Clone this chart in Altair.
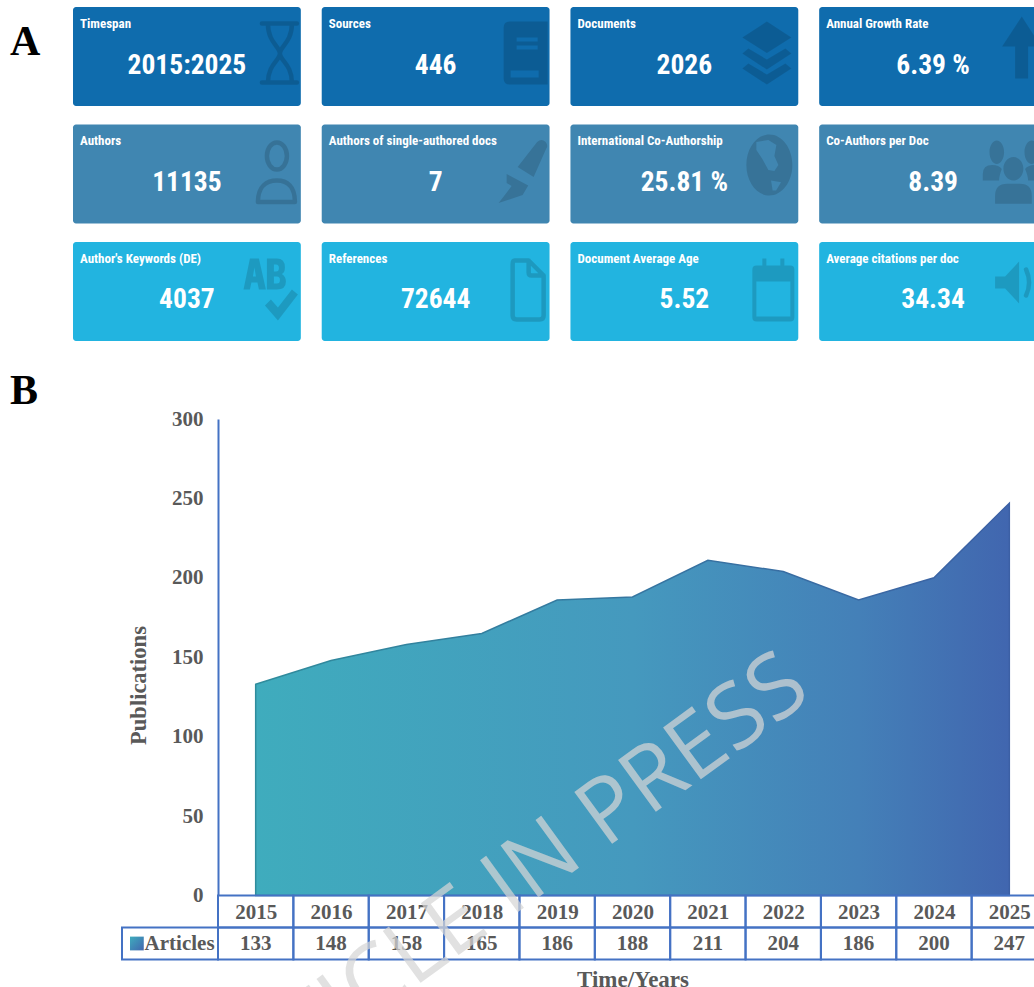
import altair as alt
import pandas as pd

# Summary cards
card_titles = [
    "Timespan", "Sources", "Documents", "Annual Growth Rate",
    "Authors", "Authors of single-authored docs", "International Co-Authorship", "Co-Authors per Doc",
    "Author's Keywords (DE)", "References", "Document Average Age", "Average citations per doc",
]
card_values = [
    "2015:2025", "446", "2026", "6.39 %",
    "11135", "7", "25.81 %", "8.39",
    "4037", "72644", "5.52", "34.34",
]
card_columns = [0, 1, 2, 3]
card_rows = [0, 1, 2]
row_colors = ["#0F6CAD", "#4086B1", "#22B4E0"]

# Publications per year
years = ["2015", "2016", "2017", "2018", "2019", "2020", "2021", "2022", "2023", "2024", "2025"]
articles = [133, 148, 158, 165, 186, 188, 211, 204, 186, 200, 247]

FRAME = "#4472C4"
INK = "#595959"
SERIF = "Liberation Serif"
NARROW = "Roboto Condensed, Roboto"

# Icon outlines, drawn around the centre of their card at unit scale.
ICON_FILLED = {
    "Sources": "M74,-35 H112 V28 H74 Q68,28 68,22 V-29 Q68,-35 74,-35 Z "
               "M81,-19 V-15 H102 V-19 Z M81,-11 V-7 H102 V-11 Z M75,14 V21 H103 V14 Z",
    "Documents": "M82.5,-35 L107,-19 L82.5,-3.5 L58,-19 Z "
                 "M58,-3 L64,-8 L82.5,3 L101,-8 L107,-3 L82.5,13 Z "
                 "M58,12 L64,7 L82.5,18 L101,7 L107,12 L82.5,28 Z",
    "Annual Growth Rate": "M88.7,-40 L108,-10 H95 V22 H82 V-10 H69 Z",
    "Authors of single-authored docs": "M82,-7 L101.5,-32 Q106,-36 110,-32 Q113,-28 110.4,-25 L98,3 Z "
                                       "M71,0 L92.6,11.5 L87,21 L63,29 L76,12 L71,9 Z",
    "International Co-Authorship": "M62,-9 A23,30.5 0 1 1 108,-9 A23,30.5 0 1 1 62,-9 Z "
                                   "M72,-32 L72,-24 L78,-15 L84,-4 L90,-3 L94,-9 L90,-18 L92,-29 L84,-34 Z "
                                   "M86.7,6.5 L88.3,16.5 L91.7,16.5 L96.7,8.2 Z",
    "Co-Authors per Doc": "M56.4,-21.8 A7.3,11.7 0 1 1 71,-21.8 A7.3,11.7 0 1 1 56.4,-21.8 Z "
                          "M70.3,-5.2 A10,11.7 0 1 1 90.3,-5.2 A10,11.7 0 1 1 70.3,-5.2 Z "
                          "M91.4,-21.8 A7.3,11.7 0 1 1 106,-21.8 A7.3,11.7 0 1 1 91.4,-21.8 Z "
                          "M49.7,6.5 V0 Q49.7,-9 59,-9 Q66,-9 68.7,-5 Q66,2 66,6.5 Z "
                          "M62,29.8 V22 Q62,9.8 74,9.8 H87 Q98.7,9.8 98.7,22 V29.8 Z "
                          "M95,6.5 Q95,2 92,-5 Q95,-9 102,-9 Q112,-9 112,0 V6.5 Z",
    "Author's Keywords (DE)": "M56.6,-2 L63,-33 H72 L79,-2 H72 L70.5,-9 H64.5 L63,-2 Z M66,-15 H69 L67.5,-24 Z "
                              "M80,-33 H90 Q98,-33 98,-24 Q98,-19 95,-17.5 Q99,-15 99,-10 Q99,-2 90,-2 H80 Z "
                              "M87,-27 V-20 H89 Q92,-20 92,-23.5 Q92,-27 89,-27 Z "
                              "M87,-15 V-8 H90 Q93,-8 93,-11.5 Q93,-15 90,-15 Z "
                              "M78,14 L84,8 L91,16 L105,-2 L111,3 L91,29 Z",
    "Document Average Age": "M72,-26 H106 Q110,-26 110,-22 V26 Q110,30 106,30 H72 Q68,30 68,26 V-22 Q68,-26 72,-26 Z "
                            "M72,-10 V25 H106 V-10 Z M78,-33 H82 V-26 H78 Z M96,-33 H100 V-26 H96 Z",
    "Average citations per doc": "M62,-15 H72 L86,-30 V12 L72,-3 H62 Z",
}
ICON_STROKED = {
    "Timespan": "M75,-33 H110 M75,26 H110 M81,-33 C81,-14 93,-10 93,-3 C93,4 81,8 81,26 "
                "M105,-33 C105,-14 93,-10 93,-3 C93,4 105,8 105,26",
    "Authors": "M80,-18 A10,13.5 0 1 1 100,-18 A10,13.5 0 1 1 80,-18 Z "
               "M71,28 C71,12 80,6.5 90,6.5 C100,6.5 108,12 108,28 Z",
    "References": "M79,-31 H93 L108,-16 V24 Q108,28 104,28 H81 Q77,28 77,24 V-27 Q77,-31 79,-31 Z "
                  "M93,-31 V-19 Q93,-16 96,-16 H108",
    "Average citations per doc": "M93,-22 Q99,-9 93,4 M104,-30 Q113,-9 104,14",
}

cards = pd.DataFrame({
    "title": card_titles,
    "value": card_values,
    "column": [c for _ in card_rows for c in card_columns],
    "row": [r for r in card_rows for _ in card_columns],
})
cards["filled_icon"] = cards["title"].map(ICON_FILLED)
cards["stroked_icon"] = cards["title"].map(ICON_STROKED)


def card_x(position):
    return alt.X("column:O", bandPosition=position, axis=None,
                 scale=alt.Scale(type="band", domain=card_columns, range=[73, 1047],
                                 paddingInner=0.084, paddingOuter=0))


def card_y(position):
    return alt.Y("row:O", bandPosition=position, axis=None,
                 scale=alt.Scale(type="band", domain=card_rows, range=[7, 341],
                                 paddingInner=0.157, paddingOuter=0))


card_boxes = alt.Chart(cards).mark_rect(cornerRadius=3).encode(
    x=card_x(0.5), y=card_y(0.5),
    color=alt.Color("row:O", legend=None, scale=alt.Scale(domain=card_rows, range=row_colors)),
)
filled_icons = alt.Chart(cards.dropna(subset=["filled_icon"])).mark_point(
    filled=True, size=4, color="black", opacity=0.14, strokeWidth=0,
).encode(x=card_x(0.5), y=card_y(0.5), shape=alt.Shape("filled_icon:N", scale=None, legend=None))
stroked_icons = alt.Chart(cards.dropna(subset=["stroked_icon"])).mark_point(
    filled=False, size=4, color="black", opacity=0.14, strokeWidth=4.5, strokeCap="round", strokeJoin="round",
).encode(x=card_x(0.5), y=card_y(0.5), shape=alt.Shape("stroked_icon:N", scale=None, legend=None))
card_labels = alt.Chart(cards).mark_text(
    align="left", baseline="middle", dx=7, dy=17, font=NARROW, fontWeight="bold", fontSize=13, color="white",
).encode(x=card_x(0), y=card_y(0), text="title:N")
card_numbers = alt.Chart(cards).mark_text(
    align="center", baseline="middle", dy=9, font=NARROW, fontWeight="bold", fontSize=27.5, color="white",
).encode(x=card_x(0.5), y=card_y(0.5), text="value:N")

# Panel letters
panels = pd.DataFrame({"panel": ["A", "B"], "slot": ["left", "left"]})
panel_letters = alt.Chart(panels).mark_text(
    align="left", baseline="alphabetic", font=SERIF, fontWeight="bold", fontSize=42, color="black",
).encode(
    x=alt.X("slot:N", bandPosition=0, axis=None, scale=alt.Scale(type="band", domain=["left"], range=[10, 60])),
    y=alt.Y("panel:N", axis=None, scale=alt.Scale(type="point", domain=["A", "B"], range=[55, 404], padding=0)),
    text="panel:N",
)

# Data table under the area
series = pd.DataFrame({"year": years, "articles": articles})
table_rows = ["year", "articles"]
year_band = alt.Scale(type="band", domain=years, range=[218, 1047], paddingInner=0, paddingOuter=0)
row_band = alt.Scale(type="band", domain=table_rows, range=[895.5, 959.5], paddingInner=0, paddingOuter=0)

cells = pd.DataFrame([{"year": y, "row": r} for y in years for r in table_rows])
table_cells = alt.Chart(cells).mark_rect(fill="transparent", stroke=FRAME, strokeWidth=2).encode(
    x=alt.X("year:O", axis=None, scale=year_band),
    y=alt.Y("row:O", axis=None, scale=row_band),
)
table_values = alt.Chart(series.assign(row="articles")).mark_text(
    font=SERIF, fontWeight="bold", fontSize=21, color=INK,
).encode(
    x=alt.X("year:O", bandPosition=0.5, axis=None, scale=year_band),
    y=alt.Y("row:O", bandPosition=0.5, axis=None, scale=row_band),
    text="articles:Q",
)

key = pd.DataFrame({"series": ["Articles"], "row": ["articles"]})
key_band = alt.Scale(type="band", domain=["Articles"], range=[122, 218], paddingInner=0, paddingOuter=0)
key_cell = alt.Chart(key).mark_rect(fill="transparent", stroke=FRAME, strokeWidth=2).encode(
    x=alt.X("series:N", axis=None, scale=key_band),
    y=alt.Y("row:O", axis=None, scale=row_band),
)
key_swatch = alt.Chart(key).mark_point(
    shape="square", filled=True, size=190, opacity=1, strokeWidth=0,
    fill=alt.Gradient(gradient="linear", x1=0, y1=0, x2=1, y2=1,
                      stops=[alt.GradientStop(color="#3FACBD", offset=0), alt.GradientStop(color="#4166AF", offset=1)]),
).encode(
    x=alt.X("series:N", bandPosition=0.155, axis=None, scale=key_band),
    y=alt.Y("row:O", bandPosition=0.5, axis=None, scale=row_band),
)
key_label = alt.Chart(key).mark_text(
    font=SERIF, fontWeight="bold", fontSize=21, color=INK, align="center",
).encode(
    x=alt.X("series:N", bandPosition=0.6, axis=None, scale=key_band),
    y=alt.Y("row:O", bandPosition=0.5, axis=None, scale=row_band),
    text="series:N",
)

# Publications area, with the years and counts as its axes
area = alt.Chart(series).mark_area(
    fill=alt.Gradient(gradient="linear", x1=0, y1=0, x2=1, y2=0, stops=[
        alt.GradientStop(color="#3FACBD", offset=0),
        alt.GradientStop(color="#4599BE", offset=0.5),
        alt.GradientStop(color="#4480B8", offset=0.8),
        alt.GradientStop(color="#4166AF", offset=1),
    ]),
    stroke=alt.Gradient(gradient="linear", x1=0, y1=0, x2=1, y2=0, stops=[
        alt.GradientStop(color="#2F8C9C", offset=0),
        alt.GradientStop(color="#3C60A5", offset=1),
    ]),
    strokeWidth=1.5,
).encode(
    x=alt.X(
        "year:O",
        scale=alt.Scale(type="point", domain=years, range=[218, 1047], padding=0.5),
        axis=alt.Axis(
            title="Time/Years", orient="bottom", offset=-91.5, domain=False, ticks=False, grid=False,
            labelAngle=0, labelFont=SERIF, labelFontWeight="bold", labelFontSize=21, labelColor=INK, labelPadding=6,
            titleFont=SERIF, titleFontWeight="bold", titleFontSize=23, titleColor=INK, titlePadding=46,
        ),
    ),
    y=alt.Y(
        "articles:Q",
        scale=alt.Scale(domain=[0, 300], range=[895.5, 419], nice=False),
        axis=alt.Axis(
            title="Publications", orient="left", offset=-218, values=[0, 50, 100, 150, 200, 250, 300],
            domainColor=FRAME, domainWidth=2, ticks=False, grid=False,
            labelFont=SERIF, labelFontWeight="bold", labelFontSize=21, labelColor=INK, labelPadding=15,
            titleFont=SERIF, titleFontWeight="bold", titleFontSize=22.5, titleColor=INK,
            titleX=-68, titleY=685,
        ),
    ),
)

# Diagonal stamp across the lower panel
stamp = pd.DataFrame({"stamp": ["ARTICLE IN PRESS"]})
stamp_text = alt.Chart(stamp).mark_text(
    align="right", baseline="alphabetic", angle=324, font="Open Sans", fontSize=90, color="#D6D6D6", opacity=0.72,
).encode(
    x=alt.X("stamp:N", bandPosition=0, axis=None,
            scale=alt.Scale(type="band", domain=stamp["stamp"].tolist(), range=[814, 900])),
    y=alt.Y("stamp:N", bandPosition=0, axis=None,
            scale=alt.Scale(type="band", domain=stamp["stamp"].tolist(), range=[697, 800])),
    text="stamp:N",
)

chart = alt.layer(
    card_boxes, filled_icons, stroked_icons, card_labels, card_numbers, panel_letters,
    area, table_cells, table_values, key_cell, key_swatch, key_label, stamp_text,
).resolve_scale(x="independent", y="independent", color="independent").properties(
    width=1034, height=987, padding=0, background="white",
    autosize=alt.AutoSizeParams(type="none"),
).configure_view(stroke=None)

chart.save("out.html", embed_options={"renderer": "svg", "actions": False})
